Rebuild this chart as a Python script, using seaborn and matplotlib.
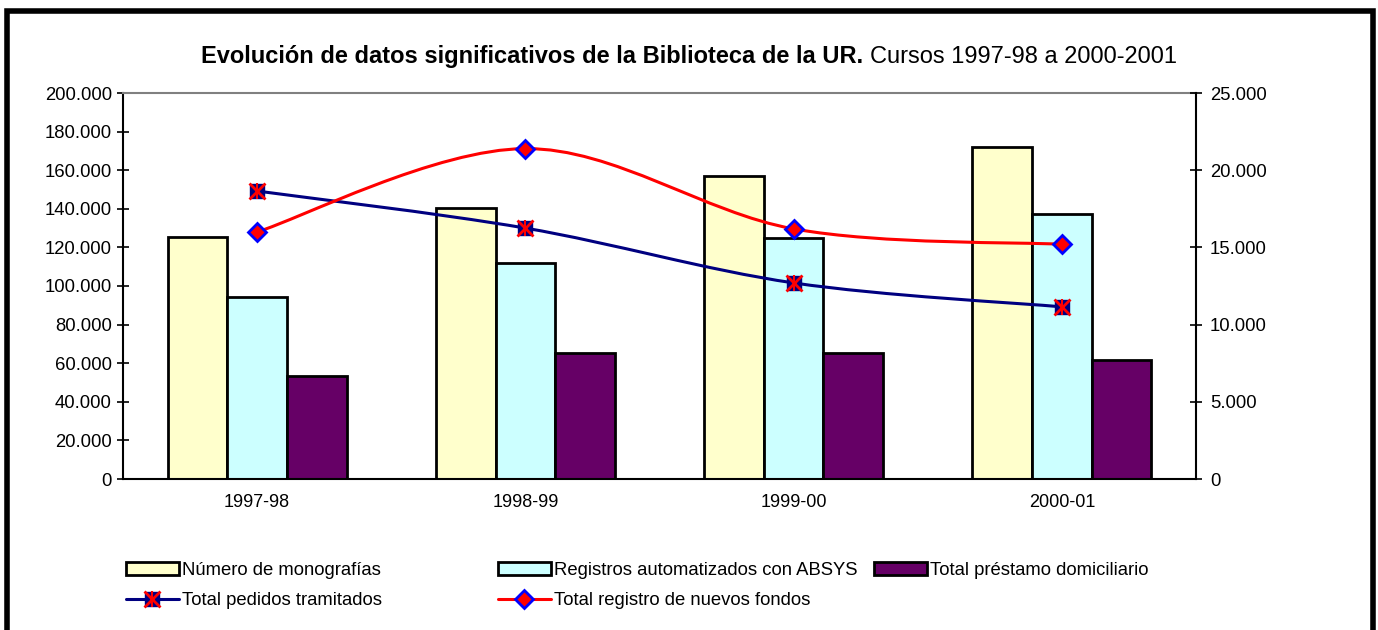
import numpy as np
import pandas as pd
import seaborn as sns
import matplotlib.pyplot as plt
from matplotlib.path import Path
from matplotlib.patches import PathPatch, Patch, Rectangle
from matplotlib.lines import Line2D
from matplotlib.ticker import FuncFormatter

cursos = ['1997-98', '1998-99', '1999-00', '2000-01']
monografias = [125400, 140400, 157000, 172000]
registros_absys = [94300, 111900, 124900, 137300]
prestamo = [53400, 65300, 65300, 61700]
pedidos = [18650, 16250, 12700, 11150]
nuevos_fondos = [16000, 21400, 16200, 15200]

bar_names = ['Número de monografías', 'Registros automatizados con ABSYS', 'Total préstamo domiciliario']
bar_colors = ['#FFFFCC', '#CCFFFF', '#660066']
navy = '#000080'

sns.set_style('white')
plt.rcParams['font.family'] = ['Liberation Sans', 'DejaVu Sans']
plt.rcParams['text.color'] = 'black'
plt.rcParams['xtick.color'] = 'black'
plt.rcParams['ytick.color'] = 'black'

bars = pd.DataFrame({'curso': cursos * 3,
                     'serie': np.repeat(bar_names, len(cursos)),
                     'valor': monografias + registros_absys + prestamo})


def smooth_path(xs, ys):
    # excel-style smoothed line: bezier segments through the points
    pts = np.column_stack([xs, ys]).astype(float)
    n = len(pts)
    verts = [pts[0]]
    codes = [Path.MOVETO]
    for i in range(n - 1):
        p0 = pts[max(i - 1, 0)]
        p1 = pts[i]
        p2 = pts[i + 1]
        p3 = pts[min(i + 2, n - 1)]
        verts += [p1 + (p2 - p0) / 6, p2 - (p3 - p1) / 6, p2]
        codes += [Path.CURVE4] * 3
    return Path(verts, codes)


fig = plt.figure(figsize=(13.78, 6.3), dpi=100)
ax = fig.add_axes([123 / 1378, 1 - 479 / 630, (1196 - 123) / 1378, (479 - 93) / 630])

sns.barplot(data=bars, x='curso', y='valor', hue='serie', palette=bar_colors,
            width=0.667, edgecolor='black', linewidth=2, saturation=1,
            errorbar=None, legend=False, ax=ax)
ax.set_xlim(-0.5, 3.5)
ax.set_ylim(0, 200000)
ax.set_yticks(range(0, 200001, 20000))
ax.set_xlabel('')
ax.set_ylabel('')

fmt = FuncFormatter(lambda v, p: f'{int(v):,}'.replace(',', '.'))
ax.yaxis.set_major_formatter(fmt)

ax.set_xticks([-0.5, 0.5, 1.5, 2.5, 3.5], labels=[''] * 5)
ax.set_xticks(range(len(cursos)), labels=cursos, minor=True)
ax.tick_params(axis='x', which='major', direction='inout', length=10, width=1.2)
ax.tick_params(axis='x', which='minor', length=0, pad=11, labelsize=13)
ax.tick_params(axis='y', direction='inout', length=8, width=1.2, labelsize=13.3, pad=4, left=True)

ax2 = ax.twinx()
ax2.set_ylim(0, 25000)
ax2.set_yticks(range(0, 25001, 5000))
ax2.yaxis.set_major_formatter(fmt)
ax2.tick_params(axis='y', direction='inout', length=8, width=1.2, labelsize=13.3, pad=6, right=True)

xs = np.arange(len(cursos))
ax2.add_patch(PathPatch(smooth_path(xs, pedidos), fill=False, edgecolor=navy, lw=2.2, zorder=3))
ax2.add_patch(PathPatch(smooth_path(xs, nuevos_fondos), fill=False, edgecolor='red', lw=2.2, zorder=3))
ax2.plot(xs, pedidos, ls='', marker='s', ms=10, color=navy, zorder=4)
ax2.plot(xs, pedidos, ls='', marker='x', ms=11, mew=2, color='red', zorder=5)
ax2.plot(xs, pedidos, ls='', marker='|', ms=11, mew=1.5, color='red', zorder=5)
ax2.plot(xs, nuevos_fondos, ls='', marker='D', ms=9, mfc='red', mec='blue', mew=2, zorder=4)

for a in (ax, ax2):
    for s in a.spines.values():
        s.set_visible(False)
ax.spines['left'].set_visible(True)
ax.spines['bottom'].set_visible(True)
ax.spines['top'].set_visible(True)
ax.spines['top'].set_color('#808080')
ax2.spines['right'].set_visible(True)
for s in ('left', 'bottom', 'top'):
    ax.spines[s].set_linewidth(1.5)
ax.spines['left'].set_color('black')
ax.spines['bottom'].set_color('black')
ax2.spines['right'].set_color('black')
ax2.spines['right'].set_linewidth(1.5)

# title: bold part + regular part, centred together
r = fig.canvas.get_renderer()
ty = 1 - 57 / 630
t1 = fig.text(0, ty, 'Evolución de datos significativos de la Biblioteca de la UR.',
              fontweight='bold', fontsize=17, va='center')
t2 = fig.text(0, ty, 'Cursos 1997-98 a 2000-2001', fontsize=17, va='center')
w1 = t1.get_window_extent(r).width
w2 = t2.get_window_extent(r).width
gap = 6
x0 = 689 - (w1 + gap + w2) / 2
t1.set_x(x0 / 1378)
t2.set_x((x0 + w1 + gap) / 1378)

# legend
h_mono = Patch(facecolor=bar_colors[0], edgecolor='black', linewidth=2)
h_abs = Patch(facecolor=bar_colors[1], edgecolor='black', linewidth=2)
h_pre = Patch(facecolor=bar_colors[2], edgecolor='black', linewidth=2)
h_ped = (Line2D([], [], color=navy, lw=2.2, marker='s', ms=10),
         Line2D([], [], ls='', marker='x', ms=11, mew=2, color='red'),
         Line2D([], [], ls='', marker='|', ms=11, mew=1.5, color='red'))
h_fon = Line2D([], [], color='red', lw=2.2, marker='D', ms=9, mfc='red', mec='blue', mew=2)

leg_kw = dict(frameon=False, fontsize=13.3, handlelength=2.85, handletextpad=0.2,
              borderpad=0, borderaxespad=0, labelspacing=0.72, loc='upper left')
ly = 1 - 562 / 630
fig.legend([h_mono, h_ped], [bar_names[0], 'Total pedidos tramitados'],
           bbox_to_anchor=(126 / 1378, ly), **leg_kw)
fig.legend([h_abs, h_fon], [bar_names[1], 'Total registro de nuevos fondos'],
           bbox_to_anchor=(498 / 1378, ly), **leg_kw)
fig.legend([h_pre], [bar_names[2]], bbox_to_anchor=(874 / 1378, ly), **leg_kw)

# outer frame
fig.patches.append(Rectangle((6.5 / 1378, -0.1), (1372.5 - 6.5) / 1378, 1.1 - 11 / 630,
                             transform=fig.transFigure, fill=False, edgecolor='black', lw=4))

fig.savefig('out.png', dpi=100)
